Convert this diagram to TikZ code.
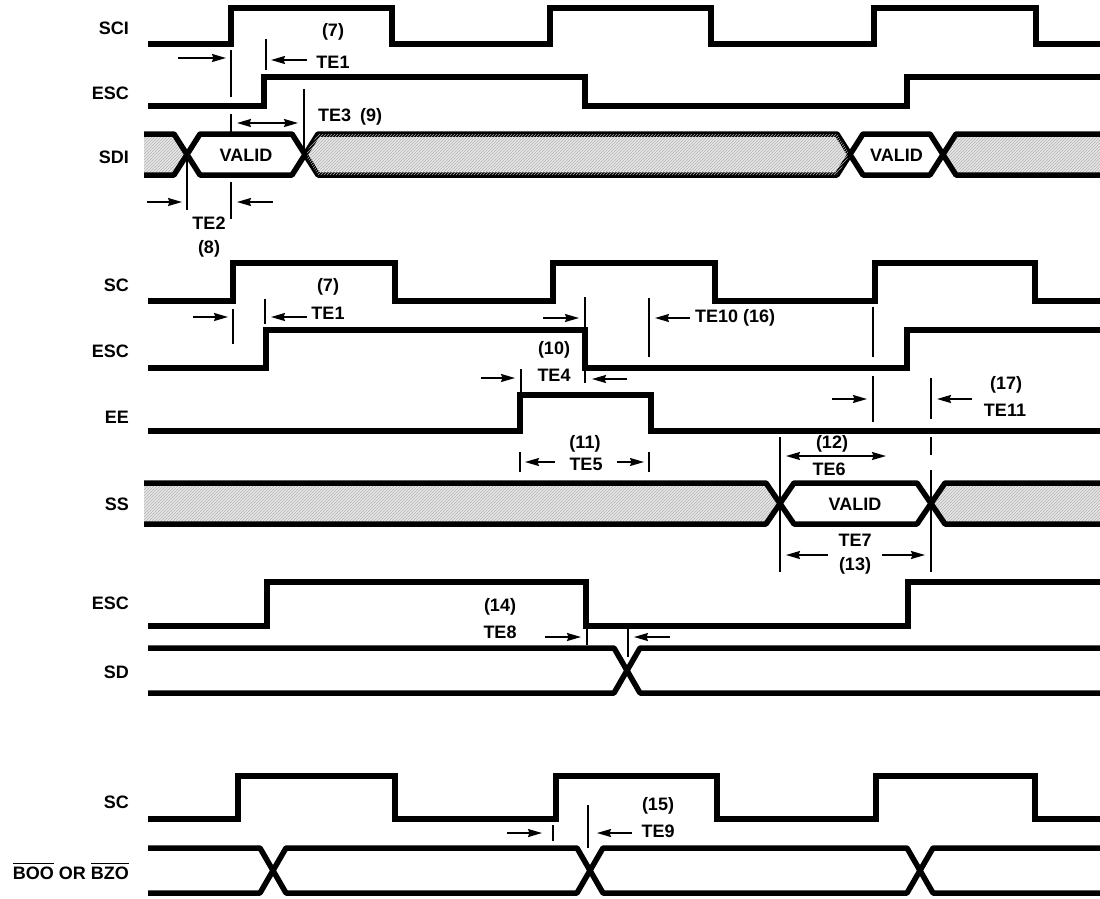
\documentclass[tikz,border=0pt]{standalone}
\usepackage{fontspec}
\setmainfont{Liberation Sans}
\usepackage{tikz}
\usetikzlibrary{arrows.meta, patterns}

\newcommand{\ovl}[1]{\leavevmode\vbox{\hrule height 1.6pt\kern 2.2pt\hbox{#1}}}

\begin{document}
\begin{tikzpicture}[x=1pt, y=-1pt,
    sig/.style={line width=5.5pt},
    bus/.style={line width=5.5pt, line join=round},
    guide/.style={line width=1.6pt},
    dim/.style={line width=1.6pt, -{Stealth[length=14pt,width=8pt,inset=1.5pt]}},
    dimboth/.style={line width=1.6pt, {Stealth[length=14pt,width=8pt,inset=1.5pt]}-{Stealth[length=14pt,width=8pt,inset=1.5pt]}},
    hatch/.style={fill=gray!18, postaction={pattern=north east lines, pattern color=gray!60}},
    lbl/.style={font=\bfseries\fontsize{18}{20}\selectfont, inner sep=0pt}]
    \useasboundingbox (0,0) rectangle (1100,898);

    % first group: SCI, ESC, SDI
    \node[lbl, anchor=east] (sci) at (129,28) {SCI};
    \draw[sig] (148,44) -| (231,8) -| (392,44) -| (550,8) -| (711,44) -| (874,8) -| (1036,44) -- (1100,44);
    \node[lbl, anchor=east] (esc1) at (129,93) {ESC};
    \draw[sig] (148,106) -| (264,77) -| (585,106) -| (907,77) -- (1100,77);
    \node[lbl, anchor=east] (sdi) at (129,157) {SDI};
    \fill[hatch] (144,134) -- (174,134) -- (187,154.5) -- (174,175) -- (144,175) -- cycle;
    \draw[bus] (144,134) -- (174,134) -- (187,154.5) -- (174,175) -- (144,175);
    \draw[bus, hatch] (305,154.5) -- (318,134) -- (837,134) -- (850,154.5) -- (837,175) -- (318,175) -- cycle;
    \fill[hatch] (943,154.5) -- (956,134) -- (1100,134) -- (1100,175) -- (956,175) -- cycle;
    \draw[bus] (1100,134) -- (956,134) -- (943,154.5) -- (956,175) -- (1100,175);
    \draw[bus] (187,154.5) -- (200,134) -- (292,134) -- (305,154.5) -- (292,175) -- (200,175) -- cycle;
    \node[lbl] (valid1) at (246,155) {VALID};
    \draw[bus] (850,154.5) -- (863,134) -- (930,134) -- (943,154.5) -- (930,175) -- (863,175) -- cycle;
    \node[lbl] (valid2) at (896.5,155) {VALID};

    \draw[guide] (231,50) -- (231,97);
    \draw[guide] (231,114) -- (231,132);
    \draw[guide] (231,182) -- (231,219);
    \draw[dim] (178,58) -- (226,58);
    \draw[guide] (266,39) -- (266,70);
    \draw[dim] (307,60) -- (271,60);
    \node[lbl] (n7a) at (333,32) {(7)};
    \node[lbl] (te1a) at (333,62) {TE1};
    \draw[guide] (304,89) -- (304,150);
    \draw[dimboth] (237,123) -- (298,123);
    \node[lbl, anchor=west] (te3) at (318,117) {TE3\enspace(9)};
    \draw[guide] (187,160) -- (187,210);
    \draw[dim] (147,202) -- (182,202);
    \draw[dim] (273,202) -- (237,202);
    \node[lbl] (te2) at (209,223) {TE2};
    \node[lbl] (n8) at (209,249) {(8)};

    % second group: SC, ESC, EE, SS
    \node[lbl, anchor=east] (sc1) at (129,285) {SC};
    \draw[sig] (148,301) -| (233,263) -| (395,301) -| (553,263) -| (715,301) -| (875,263) -| (1035,301) -- (1100,301);
    \node[lbl, anchor=east] (esc2) at (129,351) {ESC};
    \draw[sig] (148,368) -| (266,330) -| (585,368) -| (907,330) -- (1100,330);
    \node[lbl, anchor=east] (ee) at (129,417) {EE};
    \draw[sig] (148,431) -| (520,395) -| (651,431) -- (1100,431);
    \node[lbl, anchor=east] (ss) at (129,504) {SS};
    \fill[hatch] (144,483) -- (766,483) -- (780,503.5) -- (766,524) -- (144,524) -- cycle;
    \draw[bus] (144,483) -- (766,483) -- (780,503.5) -- (766,524) -- (144,524);
    \fill[hatch] (931,503.5) -- (945,483) -- (1100,483) -- (1100,524) -- (945,524) -- cycle;
    \draw[bus] (1100,483) -- (945,483) -- (931,503.5) -- (945,524) -- (1100,524);
    \draw[bus] (780,503.5) -- (794,483) -- (917,483) -- (931,503.5) -- (917,524) -- (794,524) -- cycle;
    \node[lbl] (valid3) at (855,504) {VALID};

    \draw[dim] (193,317) -- (228,317);
    \draw[guide] (233,309) -- (233,344);
    \draw[guide] (265,299) -- (265,324);
    \draw[dim] (307,317) -- (271,317);
    \node[lbl] (n7b) at (328,287) {(7)};
    \node[lbl] (te1b) at (328,313) {TE1};

    \draw[guide] (585,297) -- (585,330);
    \draw[dim] (543,318) -- (579,318);
    \draw[guide] (649,298) -- (649,357);
    \draw[dim] (690,318) -- (655,318);
    \node[lbl, anchor=west] (te10) at (695,318) {TE10 (16)};

    \draw[guide] (873,307) -- (873,357);
    \draw[guide] (873,376) -- (873,422);
    \draw[dim] (832,399) -- (867,399);
    \draw[guide] (931,378) -- (931,419);
    \draw[dim] (972,399) -- (937,399);
    \node[lbl] (n17) at (1006,385) {(17)};
    \node[lbl] (te11) at (1005,410) {TE11};

    \draw[dim] (481,378) -- (515,378);
    \draw[guide] (521,369) -- (521,393);
    \draw[guide] (585,368) -- (585,383);
    \draw[dim] (627,379) -- (592,379);
    \node[lbl] (n10) at (554,350) {(10)};
    \node[lbl] (te4) at (554,375) {TE4};

    \draw[guide] (520,452) -- (520,472);
    \draw[guide] (649,452) -- (649,472);
    \draw[dim] (555,462) -- (525,462);
    \draw[dim] (617,462) -- (644,462);
    \node[lbl] (n11) at (585,444) {(11)};
    \node[lbl] (te5) at (586,464) {TE5};

    \draw[guide] (780,437) -- (780,572);
    \draw[guide] (931,437) -- (931,455);
    \draw[guide] (931,470) -- (931,572);
    \draw[dimboth] (786,456) -- (886,456);
    \node[lbl] (n12) at (832,444) {(12)};
    \node[lbl] (te6) at (829,469) {TE6};
    \draw[dim] (828,555) -- (786,555);
    \draw[dim] (882,555) -- (925,555);
    \node[lbl] (te7) at (855,540) {TE7};
    \node[lbl] (n13) at (855,566) {(13)};

    % third group: ESC, SD
    \node[lbl, anchor=east] (esc3) at (129,603) {ESC};
    \draw[sig] (148,626) -| (267,582) -| (586,626) -| (908,582) -- (1100,582);
    \node[lbl, anchor=east] (sd) at (129,672) {SD};
    \draw[bus] (148,648) -- (614,648) -- (640,693) -- (1100,693);
    \draw[bus] (148,693) -- (614,693) -- (640,648) -- (1100,648);

    \draw[guide] (587,628) -- (587,645);
    \draw[guide] (628,628) -- (628,657);
    \draw[dim] (545,637) -- (581,637);
    \draw[dim] (670,637) -- (634,637);
    \node[lbl] (n14) at (500,607) {(14)};
    \node[lbl] (te8) at (500,632) {TE8};

    % fourth group: SC, BOO/BZO
    \node[lbl, anchor=east] (sc2) at (129,802) {SC};
    \draw[sig] (148,819) -| (238,776) -| (395,819) -| (556,776) -| (717,819) -| (876,776) -| (1035,819) -- (1100,819);
    \node[lbl, anchor=east] (boo) at (129,871) {\ovl{BOO} OR \ovl{BZO}};
    \draw[bus] (148,848) -- (260,848) -- (286,893) -- (577,893) -- (603,848) -- (907,848) -- (933,893) -- (1100,893);
    \draw[bus] (148,893) -- (260,893) -- (286,848) -- (577,848) -- (603,893) -- (907,893) -- (933,848) -- (1100,848);

    \draw[guide] (553,825) -- (553,841);
    \draw[guide] (588,805) -- (588,848);
    \draw[dim] (507,833) -- (542,833);
    \draw[dim] (632,833) -- (597,833);
    \node[lbl] (n15) at (658,806) {(15)};
    \node[lbl] (te9) at (658,831) {TE9};
\end{tikzpicture}
\end{document}
